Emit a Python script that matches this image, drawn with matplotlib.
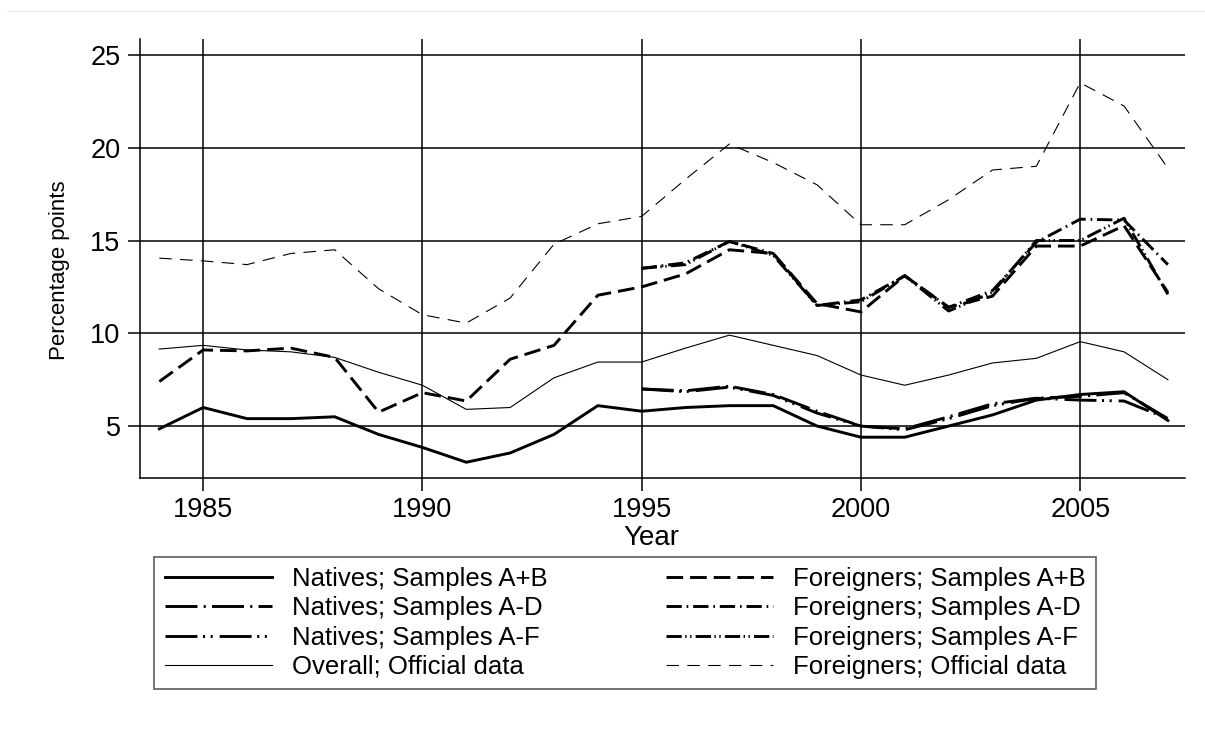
import numpy as np
import matplotlib
matplotlib.use("Agg")
import matplotlib.pyplot as plt
from matplotlib.lines import Line2D

plt.rcParams['font.family'] = ['Liberation Sans', 'DejaVu Sans']
plt.rcParams['lines.scale_dashes'] = False

# years
years_all = np.arange(1984, 2008)
years_late = np.arange(1995, 2008)

# series
natives_ab = [4.85, 6.0, 5.4, 5.4, 5.5, 4.55, 3.85, 3.05, 3.55, 4.55, 6.1, 5.8,
              6.0, 6.1, 6.1, 5.0, 4.4, 4.4, 5.0, 5.6, 6.4, 6.7, 6.85, 5.3]
foreign_ab = [7.4, 9.1, 9.05, 9.2, 8.7, 5.75, 6.8, 6.35, 8.6, 9.35, 12.05, 12.5,
              13.2, 14.5, 14.3, 11.6, 11.15, 13.1, 11.4, 12.0, 14.7, 14.7, 15.8, 12.2]
natives_ad = [7.0, 6.9, 7.15, 6.7, 5.8, 5.0, 4.85, 5.5, 6.2, 6.5, 6.6, 6.8, 5.4]
foreign_ad = [13.5, 13.8, 14.95, 14.3, 11.5, 11.8, 13.1, 11.4, 12.3, 14.9, 16.15, 16.1, 13.7]
natives_af = [7.0, 6.85, 7.1, 6.65, 5.7, 5.0, 4.8, 5.4, 6.1, 6.5, 6.4, 6.35, 5.4]
foreign_af = [13.5, 13.7, 14.95, 14.2, 11.5, 11.7, 13.1, 11.2, 12.2, 15.0, 15.0, 16.2, 12.1]
overall_off = [9.15, 9.35, 9.1, 9.0, 8.7, 7.9, 7.2, 5.9, 6.0, 7.6, 8.45, 8.45,
               9.2, 9.9, 9.35, 8.8, 7.75, 7.2, 7.75, 8.4, 8.65, 9.55, 9.0, 7.5]
foreign_off = [14.05, 13.9, 13.7, 14.3, 14.5, 12.4, 11.0, 10.55, 11.9, 14.8, 15.9, 16.3,
               18.3, 20.2, 19.2, 18.0, 15.85, 15.85, 17.2, 18.8, 19.0, 23.5, 22.25, 18.9]

xticks = [1985, 1990, 1995, 2000, 2005]
yticks = [5, 10, 15, 20, 25]

fig = plt.figure(figsize=(12.05, 7.44), dpi=100)
ax = fig.add_axes([0.1162, 0.3575, 0.8672, 0.5901])

thick = 2.1
thin = 0.8
l_nab, = ax.plot(years_all, natives_ab, color='black', lw=thick, ls='-', label='Natives; Samples A+B')
l_fab, = ax.plot(years_all, foreign_ab, color='black', lw=thick, ls=(0, (12, 5)), label='Foreigners; Samples A+B')
l_nad, = ax.plot(years_late, natives_ad, color='black', lw=thick, ls=(0, (23, 4.5, 1.5, 4.5)), label='Natives; Samples A-D')
l_fad, = ax.plot(years_late, foreign_ad, color='black', lw=thick, ls=(0, (11, 3.5, 1.2, 3.5)), label='Foreigners; Samples A-D')
l_naf, = ax.plot(years_late, natives_af, color='black', lw=thick, ls=(0, (23, 4, 1.5, 4, 1.5, 5)), label='Natives; Samples A-F')
l_faf, = ax.plot(years_late, foreign_af, color='black', lw=thick, ls=(0, (11, 2.5, 1, 2.5, 1, 3)), label='Foreigners; Samples A-F')
l_ooff, = ax.plot(years_all, overall_off, color='black', lw=thin, ls='-', label='Overall; Official data')
l_foff, = ax.plot(years_all, foreign_off, color='black', lw=thin, ls=(0, (9, 6)), label='Foreigners; Official data')

ax.set_xlim(1983.56, 2007.39)
ax.set_ylim(2.2, 25.86)
ax.set_xticks(xticks)
ax.set_yticks(yticks)
ax.grid(True, color='black', lw=1.1)
ax.set_axisbelow(True)
for s in ['top', 'right']:
    ax.spines[s].set_visible(False)
for s in ['left', 'bottom']:
    ax.spines[s].set_linewidth(1.1)
ax.tick_params(axis='both', direction='out', length=9, width=1.1, labelsize=19.5, pad=5)
ax.set_xlabel('Year', fontsize=20, va='top')
ax.xaxis.set_label_coords(0.489, -0.107)
ax.set_ylabel('Percentage points', fontsize=16)
ax.yaxis.set_label_coords(-0.067, 0.474)

# legend fills row by row in the reference
order = [l_nab, l_nad, l_naf, l_ooff, l_fab, l_fad, l_faf, l_foff]
leg = ax.legend(order, [h.get_label() for h in order],
                loc='upper center', bbox_to_anchor=(0.5187, 0.2513), bbox_transform=fig.transFigure,
                ncol=2, fontsize=18.5, frameon=True, fancybox=False, edgecolor='#333333',
                handlelength=4.2, handletextpad=0.75, columnspacing=4.6, labelspacing=0.2,
                borderpad=0.4, borderaxespad=0)
leg.get_frame().set_linewidth(1.2)

# faint line at the top of the picture
fig.add_artist(Line2D([0.006, 1.0], [0.985, 0.985], transform=fig.transFigure, color='#e6ecec', lw=0.8))

fig.savefig('out.png', dpi=100)
